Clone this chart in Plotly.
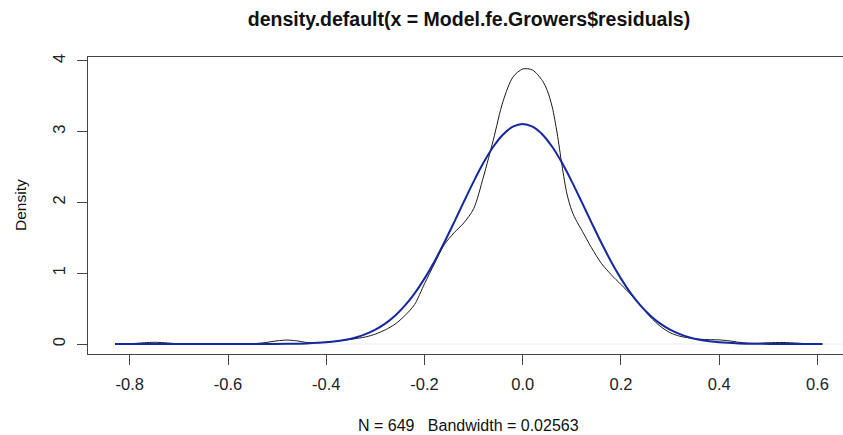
import plotly.graph_objects as go

# Kernel density estimate of residuals (black curve)
kde_x = [-0.83, -0.80, -0.77, -0.75, -0.73, -0.70, -0.66, -0.60, -0.56, -0.53,
         -0.50, -0.48, -0.46, -0.44, -0.42, -0.40, -0.38, -0.35, -0.32, -0.30,
         -0.28, -0.26, -0.24, -0.22, -0.20, -0.18, -0.16, -0.14, -0.12, -0.10,
         -0.08, -0.06, -0.04, -0.02, 0.00, 0.02, 0.04, 0.05, 0.06,
         0.07, 0.08, 0.09, 0.10, 0.11, 0.12, 0.14, 0.16, 0.18, 0.20,
         0.22, 0.24, 0.26, 0.28, 0.30, 0.32, 0.34, 0.36, 0.38, 0.40,
         0.42, 0.44, 0.46, 0.48, 0.50, 0.53, 0.56, 0.58, 0.61]
kde_y = [0.001, 0.004, 0.018, 0.025, 0.018, 0.004, 0.001, 0.000, 0.002, 0.015,
         0.045, 0.056, 0.045, 0.022, 0.018, 0.025, 0.040, 0.066, 0.100, 0.140,
         0.200, 0.280, 0.400, 0.560, 0.850, 1.130, 1.400, 1.570, 1.710, 1.910,
         2.360, 2.880, 3.430, 3.770, 3.885, 3.870, 3.720, 3.580, 3.350,
         2.980, 2.520, 2.120, 1.880, 1.730, 1.610, 1.360, 1.140, 0.980, 0.840,
         0.700, 0.540, 0.380, 0.250, 0.160, 0.110, 0.085, 0.068, 0.062, 0.058,
         0.045, 0.025, 0.012, 0.010, 0.018, 0.022, 0.012, 0.004, 0.001]

# Fitted normal curve (blue)
norm_x = [-0.83, -0.60, -0.52, -0.48, -0.44, -0.40, -0.38, -0.36, -0.34, -0.32,
          -0.30, -0.28, -0.26, -0.24, -0.22, -0.20, -0.18, -0.16, -0.14, -0.12,
          -0.10, -0.08, -0.06, -0.04, -0.02, 0.00, 0.02, 0.04, 0.06, 0.08,
          0.10, 0.12, 0.14, 0.16, 0.18, 0.20, 0.22, 0.24, 0.26, 0.28,
          0.30, 0.32, 0.34, 0.36, 0.38, 0.40, 0.44, 0.48, 0.52, 0.61]
norm_y = [0.000, 0.000, 0.001, 0.003, 0.009, 0.024, 0.039, 0.061, 0.093, 0.139,
          0.203, 0.288, 0.400, 0.542, 0.716, 0.924, 1.163, 1.430, 1.715, 2.007,
          2.294, 2.559, 2.786, 2.960, 3.070, 3.107, 3.070, 2.960, 2.786, 2.559,
          2.294, 2.007, 1.715, 1.430, 1.163, 0.924, 0.716, 0.542, 0.400, 0.288,
          0.203, 0.139, 0.093, 0.061, 0.039, 0.024, 0.009, 0.003, 0.001, 0.000]

x_ticks = [-0.8, -0.6, -0.4, -0.2, 0.0, 0.2, 0.4, 0.6]
x_tick_labels = ["-0.8", "-0.6", "-0.4", "-0.2", "0.0", "0.2", "0.4", "0.6"]
y_ticks = [0, 1, 2, 3, 4]
y_tick_labels = ["0", "1", "2", "3", "4"]
title_text = "density.default(x = Model.fe.Growers$residuals)"
x_label = "N = 649   Bandwidth = 0.02563"
y_label = "Density"

FONT = "Liberation Sans, Arial, sans-serif"

fig = go.Figure()
# zero line
fig.add_trace(go.Scatter(x=[kde_x[0], kde_x[-1] + 0.1], y=[0, 0], mode="lines",
                         line=dict(color="#ececec", width=1), hoverinfo="skip"))
fig.add_trace(go.Scatter(x=kde_x, y=kde_y, mode="lines",
                         line=dict(color="#1a1a1a", width=1, shape="spline", smoothing=0.8)))
fig.add_trace(go.Scatter(x=norm_x, y=norm_y, mode="lines",
                         line=dict(color="#1428a0", width=2, shape="spline", smoothing=0.8)))

fig.update_layout(
    width=843, height=435,
    margin=dict(l=88, r=0, t=57, b=81),
    paper_bgcolor="white", plot_bgcolor="white",
    showlegend=False,
    font=dict(family=FONT, color="#111111"),
    title=dict(text="<b>" + title_text + "</b>", x=469 / 843, xanchor="center",
               y=1 - 19 / 435, yanchor="middle", font=dict(size=19.5, family=FONT, color="#111111")),
    xaxis=dict(range=[-0.885, 0.652], tickvals=x_ticks, ticktext=x_tick_labels,
               showgrid=False, zeroline=False, showline=True, linecolor="#444444",
               linewidth=1, mirror=True, ticks="outside", ticklen=10, tickcolor="#444444",
               tickfont=dict(size=16.5, color="#222222"), ticklabelstandoff=5),
    yaxis=dict(range=[-0.141, 4.054], tickvals=y_ticks, ticktext=y_tick_labels,
               showgrid=False, zeroline=False, showline=True, linecolor="#444444",
               linewidth=1, ticks="outside", ticklen=10, tickcolor="#444444",
               tickangle=-90, tickfont=dict(size=16.5, color="#222222"), ticklabelstandoff=5),
    annotations=[
        dict(text=x_label, xref="paper", yref="paper", x=(469 - 88) / 755, y=(354 - 425) / 297,
             xanchor="center", yanchor="middle", showarrow=False,
             font=dict(size=16, family=FONT, color="#111111")),
        dict(text=y_label, xref="paper", yref="paper", x=(20 - 88) / 755, y=(354 - 205) / 297,
             xanchor="center", yanchor="middle", showarrow=False, textangle=-90,
             font=dict(size=15.5, family=FONT, color="#111111")),
    ],
)

fig.write_html("out.html")
